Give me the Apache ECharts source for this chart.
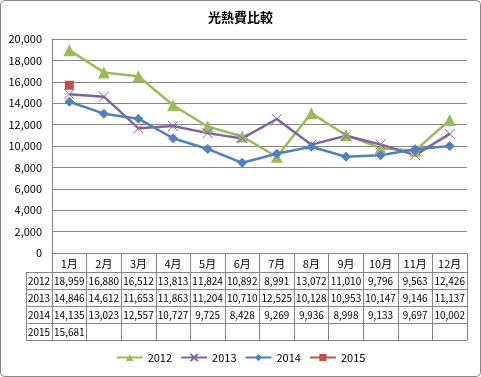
<!DOCTYPE html>
<html>
<head>
<meta charset="utf-8">
<script src="https://cdn.jsdelivr.net/npm/echarts@6/dist/echarts.min.js"></script>
<style>
  html, body { margin: 0; padding: 0; background: #fff; }
  #chart { width: 481px; height: 377px; }
</style>
</head>
<body>
<div id="chart"></div>
<script>
// データ
const months = ['1月', '2月', '3月', '4月', '5月', '6月', '7月', '8月', '9月', '10月', '11月', '12月']
const years = ['2012', '2013', '2014', '2015']
const data2012 = [18959, 16880, 16512, 13813, 11824, 10892, 8991, 13072, 11010, 9796, 9563, 12426]
const data2013 = [14846, 14612, 11653, 11863, 11204, 10710, 12525, 10128, 10953, 10147, 9146, 11137]
const data2014 = [14135, 13023, 12557, 10727, 9725, 8428, 9269, 9936, 8998, 9133, 9697, 10002]
const data2015 = [15681]
const yTicks = [0, 2000, 4000, 6000, 8000, 10000, 12000, 14000, 16000, 18000, 20000]

const colors = ['#9BBB59', '#8064A2', '#4F81BD', '#C0504D']
const symbols = ['triangle', 'path://M0,0L10,10M10,0L0,10', 'diamond', 'rect']
const symbolSizes = [12, 10, 10, 9]
const rows = [data2012, data2013, data2014, data2015]

const fmt = v => v.toLocaleString('en-US')
const FONT = '"Noto Sans CJK JP", "Liberation Sans", sans-serif'

// レイアウト
const gridLeft = 52
const gridRight = 14
const gridTop = 39
const axisY = 253
const rowH = 17
const headerBottom = 272
const tableLeft = 26
const tableBottom = headerBottom + rowH * 4

const chart = echarts.init(document.getElementById('chart'), null, { renderer: 'canvas' })

const series = years.map((y, i) => ({
  name: y,
  type: 'line',
  data: rows[i],
  symbol: symbols[i],
  symbolSize: symbolSizes[i],
  showSymbol: true,
  animation: false,
  lineStyle: { width: 2.5, color: colors[i] },
  itemStyle: {
    color: colors[i],
    borderColor: colors[i],
    borderWidth: i === 1 ? 1 : 0
  }
}))

const option = {
  animation: false,
  textStyle: { fontFamily: FONT },
  title: {
    text: '光熱費比較',
    left: 'center',
    top: 6,
    textStyle: { fontSize: 13, fontWeight: 'bold', color: '#000', fontFamily: FONT }
  },
  legend: {
    data: years,
    bottom: 9,
    left: 'center',
    itemWidth: 26,
    itemHeight: 9,
    itemGap: 8,
    textStyle: { fontSize: 11, color: '#000', fontFamily: FONT }
  },
  grid: {
    left: gridLeft,
    right: gridRight,
    top: gridTop,
    bottom: 377 - axisY,
    containLabel: false
  },
  xAxis: {
    type: 'category',
    data: months,
    boundaryGap: true,
    axisLine: { lineStyle: { color: '#868686', width: 1 } },
    axisTick: {
      show: true,
      interval: 0,
      length: tableBottom - axisY,
      lineStyle: { color: '#868686', width: 1 }
    },
    axisLabel: {
      interval: 0,
      margin: 5,
      fontSize: 11,
      color: '#000',
      fontFamily: FONT
    }
  },
  yAxis: {
    type: 'value',
    min: yTicks[0],
    max: yTicks[yTicks.length - 1],
    interval: yTicks[1] - yTicks[0],
    axisLine: { show: true, lineStyle: { color: '#868686', width: 1 } },
    axisTick: { show: false },
    splitLine: { lineStyle: { color: '#868686', width: 1 } },
    axisLabel: {
      margin: 10,
      fontSize: 11,
      color: '#000',
      fontFamily: FONT,
      formatter: fmt
    }
  },
  series: series
}

chart.setOption(option)

// データテーブル
const buildTable = () => {
  const right = 481 - gridRight
  const els = []
  // 外枠
  els.push({
    type: 'rect',
    shape: { x: 0.5, y: 0.5, width: 480, height: 376, r: 4 },
    style: { fill: 'none', stroke: '#868686', lineWidth: 1 },
    silent: true
  })
  // 横線
  for (let r = 0; r <= years.length; r++) {
    const yy = headerBottom + r * rowH + 0.5
    els.push({
      type: 'line',
      shape: { x1: tableLeft, y1: yy, x2: right, y2: yy },
      style: { stroke: '#868686', lineWidth: 1 },
      silent: true
    })
  }
  // 左端の縦線
  els.push({
    type: 'line',
    shape: { x1: tableLeft + 0.5, y1: headerBottom, x2: tableLeft + 0.5, y2: tableBottom },
    style: { stroke: '#868686', lineWidth: 1 },
    silent: true
  })
  years.forEach((y, r) => {
    const cy = headerBottom + r * rowH + rowH / 2 + 1
    els.push({
      type: 'text',
      x: (tableLeft + gridLeft) / 2,
      y: cy,
      style: { text: y, fontSize: 10, fill: '#000', align: 'center', verticalAlign: 'middle', fontFamily: FONT },
      silent: true
    })
    rows[r].forEach((v, i) => {
      const cx = chart.convertToPixel({ xAxisIndex: 0 }, i)
      els.push({
        type: 'text',
        x: cx,
        y: cy,
        style: { text: fmt(v), fontSize: 10, fill: '#000', align: 'center', verticalAlign: 'middle', fontFamily: FONT },
        silent: true
      })
    })
  })
  chart.setOption({ graphic: els })
}

buildTable()
</script>
</body>
</html>
